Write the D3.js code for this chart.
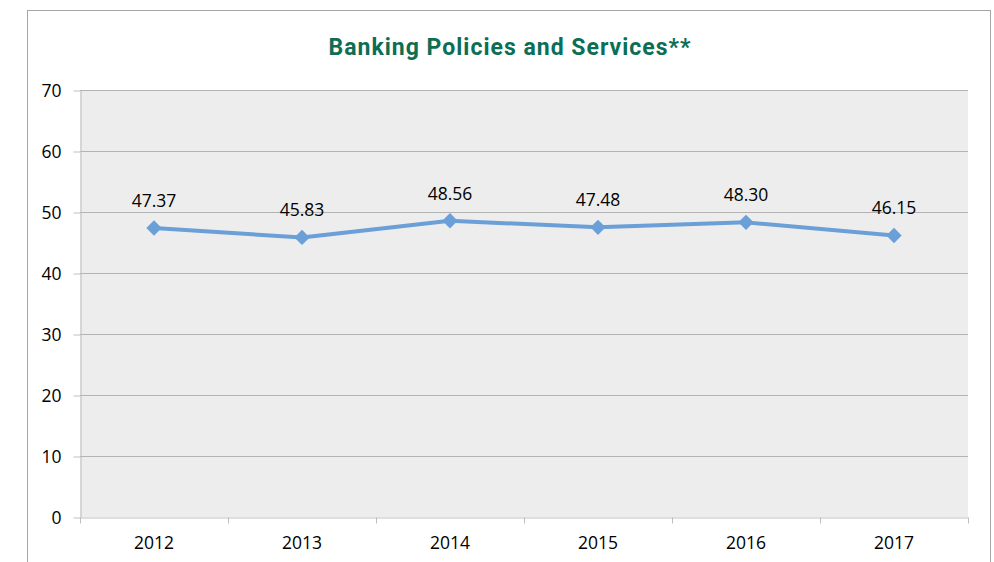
<!DOCTYPE html>
<html><head><meta charset="utf-8">
<script src="https://cdn.jsdelivr.net/npm/d3@7"></script>
<style>body{margin:0;background:#fff;} svg{display:block;}</style>
</head><body>
<script>
const years = ["2012","2013","2014","2015","2016","2017"];
const values = [47.37, 45.83, 48.56, 47.48, 48.30, 46.15];
const yTicks = [0,10,20,30,40,50,60,70];
const title = "Banking Policies and Services**";

const W = 994, H = 562;
const m = {left:80, right:26, top:90, bottom:45};
const svg = d3.select("body").append("svg").attr("width",W).attr("height",H);

svg.append("rect").attr("x",27.5).attr("y",10.5).attr("width",963).attr("height",600)
  .attr("fill","#fff").attr("stroke","#a6a6a6").attr("stroke-width",1);

const x = d3.scaleBand().domain(years).range([m.left, W-m.right]);
const y = d3.scaleLinear().domain([0,70]).range([H-m.bottom, m.top]);

svg.append("rect").attr("x",m.left).attr("y",m.top)
  .attr("width",x.range()[1]-m.left).attr("height",y(0)-m.top).attr("fill","#ededed");

// gridlines
svg.append("g").selectAll("line").data(yTicks.filter(d=>d>0)).join("line")
  .attr("x1",m.left).attr("x2",x.range()[1])
  .attr("y1",d=>Math.round(y(d))+0.5).attr("y2",d=>Math.round(y(d))+0.5)
  .attr("stroke","#b3b3b3").attr("stroke-width",1);

const font = "'Open Sans', sans-serif";
const fs = "17.5px";
// y axis
const ya = svg.append("g").attr("transform",`translate(${m.left+0.5},0.5)`)
  .call(d3.axisLeft(y).tickValues(yTicks).tickSize(7).tickPadding(12).tickSizeOuter(0));
ya.select(".domain").attr("stroke","#bfbfbf");
ya.selectAll(".tick line").attr("stroke","#bfbfbf");
ya.selectAll("text").attr("font-family",font).attr("font-size",fs).attr("fill","#000");

// x axis
const xa = svg.append("g").attr("transform",`translate(0,${Math.round(y(0))+0.5})`)
  .call(d3.axisBottom(x).tickSize(0).tickPadding(19).tickSizeOuter(0));
xa.select(".domain").attr("stroke","#bfbfbf");
xa.selectAll("text").attr("font-family",font).attr("font-size",fs).attr("fill","#000");
const bounds = years.map(d=>x(d)).concat([x.range()[1]]);
xa.append("g").selectAll("line").data(bounds).join("line")
  .attr("x1",d=>Math.round(d)+0.5).attr("x2",d=>Math.round(d)+0.5)
  .attr("y1",0).attr("y2",6).attr("stroke","#bfbfbf");

// line
const cx = d=>x(d)+x.bandwidth()/2;
svg.append("path").datum(years.map((d,i)=>[cx(d), y(values[i])]))
  .attr("d",d3.line()).attr("fill","none").attr("stroke","#6a9fd8").attr("stroke-width",4)
  .attr("stroke-linejoin","round");
svg.append("g").selectAll("path").data(years).join("path")
  .attr("d",d3.symbol(d3.symbolDiamond2, 150))
  .attr("transform",(d,i)=>`translate(${cx(d)},${y(values[i])})`)
  .attr("fill","#6a9fd8");

svg.append("g").selectAll("text").data(years).join("text")
  .attr("x",d=>cx(d)).attr("y",(d,i)=>y(values[i])-21)
  .attr("text-anchor","middle").attr("font-family",font).attr("font-size",fs)
  .text((d,i)=>values[i].toFixed(2));

svg.append("text").attr("x",510).attr("y",55).attr("text-anchor","middle")
  .attr("font-family","Roboto, sans-serif").attr("font-weight","bold").attr("font-size","23px")
  .attr("letter-spacing","1px")
  .attr("fill","#0b6e55").text(title);
</script>
</body></html>
